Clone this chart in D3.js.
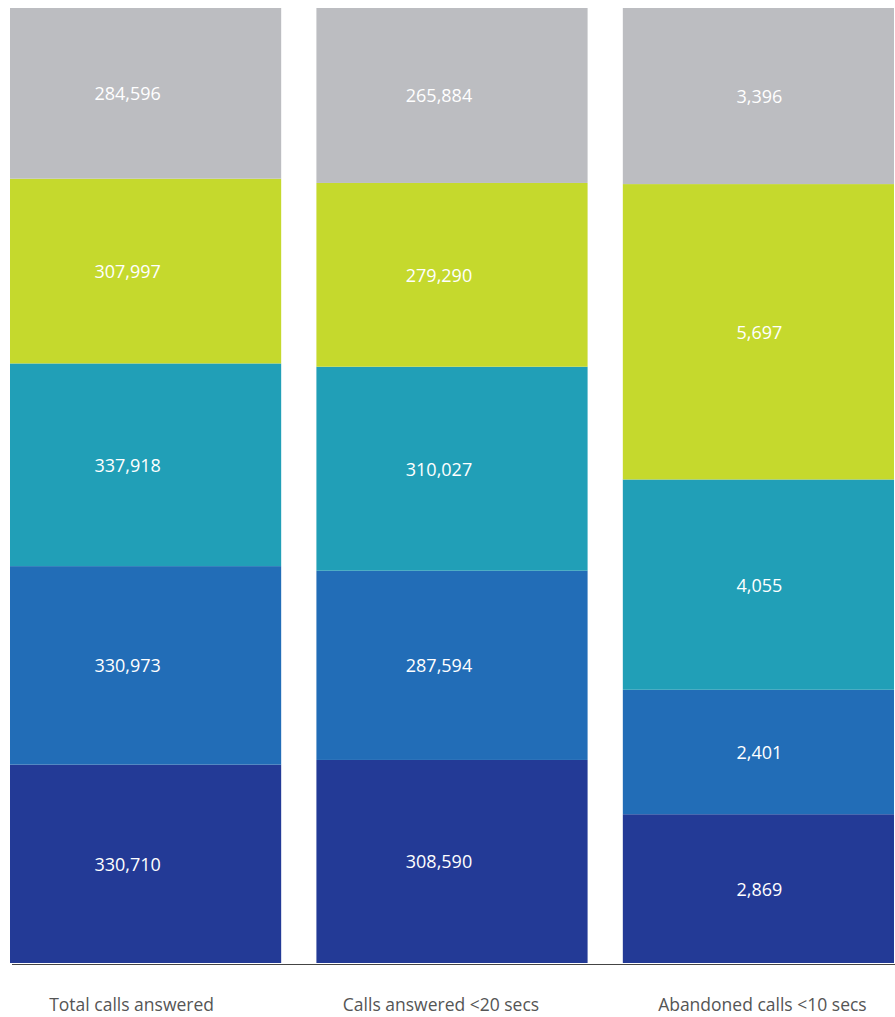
<!DOCTYPE html>
<html><head><meta charset="utf-8">
<script src="https://cdn.jsdelivr.net/npm/d3@7"></script>
<style>body{margin:0;background:#fff}svg{display:block}</style>
</head><body>
<script>
const categories = ["Total calls answered", "Calls answered <20 secs", "Abandoned calls <10 secs"];
const seriesNames = ["s1", "s2", "s3", "s4", "s5"]; // bottom to top
const s1 = [330710, 308590, 2869];
const s2 = [330973, 287594, 2401];
const s3 = [337918, 310027, 4055];
const s4 = [307997, 279290, 5697];
const s5 = [284596, 265884, 3396];
const seriesValues = [s1, s2, s3, s4, s5];
const colors = ["#233a96", "#226db7", "#219fb7", "#c5d92d", "#bcbdc1"];
const labelOffsets = [-18, -13, 1];
const catOffsets = [-14, -11, 4];

const W = 895, H = 1017;
const svg = d3.select("body").append("svg").attr("width", W).attr("height", H);

const rows = categories.map((c, i) => {
  const r = {cat: c};
  seriesNames.forEach((s, j) => r[s] = seriesValues[j][i]);
  return r;
});
const stack = d3.stack().keys(seriesNames).offset(d3.stackOffsetExpand);
const layers = stack(rows);

const x = d3.scaleBand().domain(categories).range([10, 894]).paddingInner(0.115).paddingOuter(0);
const y = d3.scaleLinear().domain([0, 1]).range([963, 8]);

const g = svg.append("g");
layers.forEach((layer, j) => {
  g.selectAll(null).data(layer).join("rect")
    .attr("x", d => x(d.data.cat))
    .attr("width", x.bandwidth())
    .attr("y", d => y(d[1]))
    .attr("height", d => y(d[0]) - y(d[1]))
    .attr("fill", colors[j]);
  g.selectAll(null).data(layer).join("text")
    .attr("x", (d, i) => x(d.data.cat) + x.bandwidth() / 2 + labelOffsets[i])
    .attr("y", d => (y(d[0]) + y(d[1])) / 2 + 7)
    .attr("text-anchor", "middle")
    .attr("fill", "#fff")
    .style("font-family", "'Open Sans', sans-serif")
    .style("font-size", "18px")
    .text(d => d3.format(",")(d.data[layer.key]));
});

svg.append("line").attr("x1", 12).attr("x2", 895).attr("y1", 964.5).attr("y2", 964.5)
  .attr("stroke", "#444").attr("stroke-width", 1.2);

svg.selectAll(".cl").data(categories).join("text")
  .attr("x", (d, i) => x(d) + x.bandwidth() / 2 + catOffsets[i])
  .attr("y", 1011)
  .attr("text-anchor", "middle")
  .attr("fill", "#555")
  .style("font-family", "'Open Sans', sans-serif")
  .style("font-size", "17.5px")
  .text(d => d);
</script>
</body></html>
